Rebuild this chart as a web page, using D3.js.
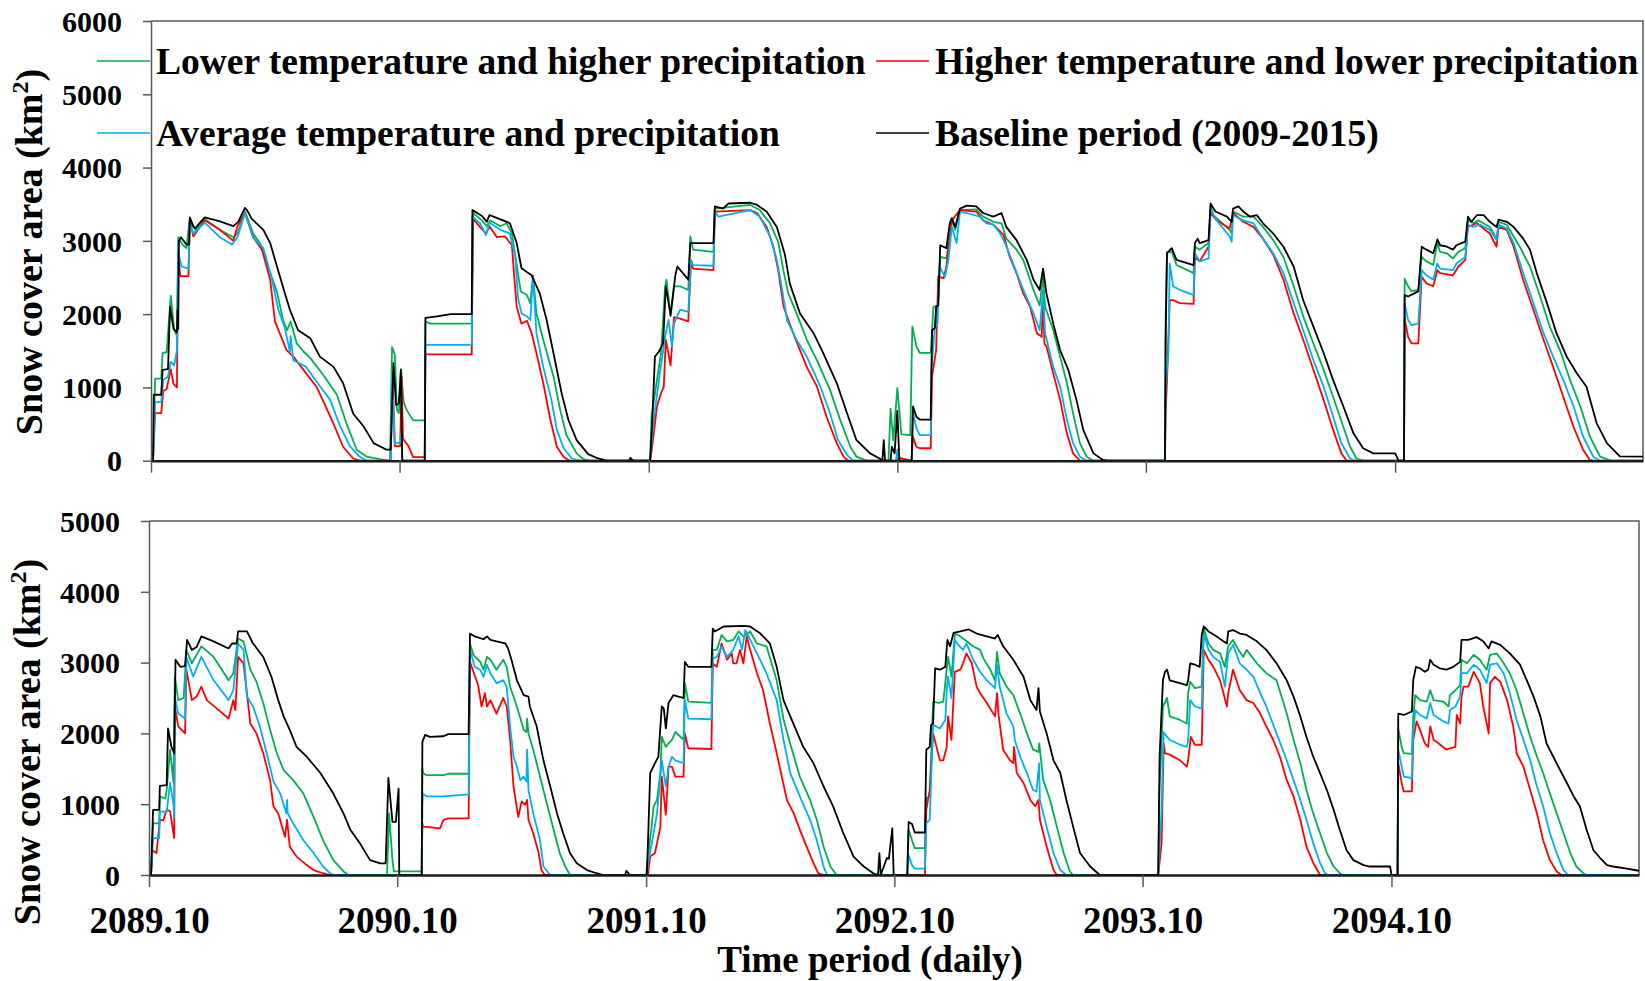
<!DOCTYPE html>
<html>
<head>
<meta charset="utf-8">
<script src="https://cdn.jsdelivr.net/npm/d3@7"></script>
<style>
  body { margin: 0; background: #fff; }
  text { font-family: "Times New Roman", "Liberation Serif", serif; font-weight: bold; fill: #000; }
</style>
</head>
<body>
<div id="chart"></div>
<script>
// day index from 2089-10-01, snow cover area in km2
var tickDays = [0, 365, 731, 1096, 1461, 1827];
var tickLabels = ["2089.10", "2090.10", "2091.10", "2092.10", "2093.10", "2094.10"];
var seriesNames = ["Lower temperature and higher precipitation", "Higher temperature and lower precipitation",
                   "Average temperature and precipitation", "Baseline period (2009-2015)"];
var seriesColors = ["#00b050", "#ff0000", "#00b0f0", "#000000"];

// upper panel
var topLowT = [[0,0],[3,0],[6,1120],[15,1120],[17,1470],[23,1480],[29,2250],[34,1800],[38,1700],[40,3050],[46,2950],[52,2900],[57,3300],[65,3150],[79,3300],[101,3150],[121,3050],[127,3100],[138,3400],[150,3100],[160,2970],[170,2700],[185,2300],[194,1920],[200,1780],[205,1900],[214,1600],[224,1490],[234,1400],[253,1170],[273,900],[287,510],[302,150],[317,55],[336,20],[351,0],[354,1550],[358,1450],[361,700],[364,650],[367,1250],[371,800],[375,700],[385,550],[402,550],[403,1900],[410,1870],[471,1870],
  [473,3380],[486,3280],[493,3200],[498,3280],[513,3200],[522,3240],[530,3100],[537,2670],[543,2310],[552,2260],[557,2150],[561,2530],[566,2010],[576,1650],[591,1150],[601,690],[610,350],[625,100],[635,20],[645,0],
  [733,0],[735,600],[743,1100],[749,1470],[755,2380],[757,2470],[763,1970],[768,2380],[777,2380],[789,2330],[792,3060],[796,2880],[826,2850],[828,3440],[880,3490],[894,3420],[909,3240],[921,2990],[929,2580],[936,2280],[948,2010],[963,1650],[978,1370],[997,970],[1012,560],[1027,190],[1036,55],[1051,0],[1083,0],[1086,710],[1090,280],[1096,990],[1102,360],
  [1115,350],[1118,1830],[1124,1560],[1129,1470],[1145,1470],[1149,2100],[1156,2120],[1159,2780],[1168,2760],[1176,3280],[1181,3150],[1188,3420],[1212,3430],[1222,3330],[1237,3260],[1249,3240],[1256,3030],[1271,2880],[1281,2740],[1296,2330],[1305,2120],[1310,2510],[1313,2100],[1325,1780],[1335,1420],[1345,1060],[1354,650],[1364,240],[1374,55],[1384,0],
  [1489,0],[1490,1950],[1492,2850],[1499,2850],[1506,2670],[1531,2560],[1533,2920],[1540,2880],[1553,2970],[1556,3470],[1560,3350],[1584,3150],[1587,3100],[1589,3400],[1604,3330],[1619,3330],[1633,3190],[1648,3010],[1663,2780],[1678,2380],[1692,1970],[1707,1600],[1722,1240],[1736,870],[1751,460],[1761,190],[1770,30],[1780,0],
  [1840,0],[1841,2480],[1846,2380],[1851,2310],[1861,2330],[1866,2780],[1873,2720],[1883,2670],[1889,2970],[1893,2850],[1903,2830],[1912,2760],[1920,2850],[1930,2900],[1934,3280],[1942,3240],[1949,3280],[1966,3190],[1976,3030],[1979,3260],[1991,3220],[2001,3060],[2010,2920],[2025,2650],[2040,2240],[2054,1830],[2069,1510],[2084,1100],[2099,740],[2113,330],[2128,55],[2143,0],[2191,0]];

var topHighT = [[0,0],[3,0],[6,650],[15,650],[18,950],[23,980],[29,1250],[33,1050],[38,1000],[40,2800],[43,2520],[55,2520],[57,3300],[62,3060],[79,3280],[101,3150],[121,3000],[127,3200],[138,3380],[150,3050],[163,2880],[175,2470],[182,1900],[189,1740],[199,1510],[209,1420],[224,1240],[243,1010],[258,710],[270,460],[282,190],[297,30],[307,0],[352,0],[355,1150],[358,200],[366,200],[368,1150],[370,300],[378,200],[385,50],[402,50],[403,1450],[471,1450],
  [473,3300],[483,3190],[492,3100],[497,3200],[508,3050],[520,3060],[530,2940],[533,2560],[537,2100],[544,1870],[552,1910],[559,1740],[566,1470],[576,1060],[586,580],[596,190],[606,50],[615,0],
  [733,0],[736,190],[743,740],[749,920],[753,1010],[756,1650],[763,1300],[768,1960],[777,1940],[789,1900],[793,2720],[796,2620],[826,2600],[828,3400],[855,3410],[880,3420],[890,3380],[904,3190],[914,2920],[921,2600],[929,2100],[943,1740],[963,1280],[978,1010],[992,600],[1007,240],[1017,55],[1024,0],[1096,0],[1098,50],[1102,30],
  [1117,0],[1119,330],[1124,190],[1129,170],[1145,170],[1147,1150],[1153,1510],[1156,2510],[1164,2490],[1168,2650],[1176,3280],[1188,3420],[1212,3400],[1222,3280],[1237,3220],[1252,3080],[1261,2780],[1271,2560],[1281,2280],[1291,2100],[1301,1740],[1308,1690],[1310,2280],[1312,1600],[1315,1560],[1325,1190],[1335,830],[1345,370],[1354,100],[1364,0],
  [1489,0],[1490,650],[1492,1100],[1496,2190],[1501,2190],[1511,2150],[1531,2140],[1533,2780],[1540,2720],[1553,2920],[1556,3380],[1565,3280],[1584,3170],[1589,3380],[1604,3260],[1619,3190],[1633,3030],[1648,2810],[1663,2470],[1678,2010],[1692,1650],[1707,1240],[1722,830],[1736,420],[1748,100],[1756,0],
  [1840,0],[1841,1940],[1846,1690],[1851,1600],[1861,1600],[1866,2510],[1873,2420],[1883,2380],[1889,2600],[1893,2560],[1912,2530],[1920,2650],[1930,2740],[1934,3190],[1947,3240],[1966,3100],[1976,2920],[1979,3190],[1991,3150],[2001,2920],[2015,2470],[2030,2060],[2045,1650],[2059,1280],[2074,870],[2089,460],[2103,150],[2113,10],[2118,0],[2191,0]];

var topAvg = [[0,0],[3,0],[6,800],[15,800],[18,1100],[25,1150],[29,1350],[34,1300],[38,1500],[40,2830],[45,2650],[55,2620],[57,3250],[62,3100],[79,3250],[101,3050],[119,2950],[127,3050],[138,3380],[150,3050],[165,2900],[177,2500],[187,2060],[196,1830],[204,1490],[205,1700],[209,1370],[228,1280],[243,1080],[263,830],[277,490],[292,200],[307,50],[317,0],[352,0],[354,1190],[358,240],[366,240],[368,400],[369,0],[402,0],[403,1580],[471,1580],
  [472,3330],[483,3240],[492,3080],[497,3250],[513,3150],[527,3100],[535,2780],[539,2220],[544,2010],[552,1970],[557,1920],[561,2500],[566,1740],[576,1280],[588,830],[596,420],[606,170],[618,30],[630,0],
  [733,0],[738,550],[748,1240],[755,1690],[760,1920],[765,1560],[768,1870],[777,2060],[789,2030],[793,2740],[796,2670],[826,2660],[828,3400],[833,3330],[880,3420],[894,3330],[909,3060],[919,2740],[926,2380],[934,1920],[948,1650],[963,1420],[983,1010],[997,650],[1009,280],[1022,80],[1031,0],[1094,0],[1096,150],[1098,0],
  [1117,0],[1119,650],[1124,440],[1129,350],[1145,350],[1146,1240],[1151,1810],[1155,1870],[1158,2650],[1166,2510],[1171,2740],[1176,3190],[1183,2970],[1188,3400],[1198,3380],[1217,3330],[1227,3240],[1237,3220],[1247,3100],[1254,2970],[1266,2690],[1281,2330],[1296,2010],[1305,1780],[1310,2330],[1313,1740],[1325,1280],[1335,1010],[1345,560],[1354,240],[1364,55],[1374,0],
  [1489,0],[1490,1000],[1494,1470],[1496,2690],[1501,2380],[1511,2330],[1531,2260],[1533,2830],[1540,2720],[1553,2760],[1556,3440],[1565,3280],[1584,3060],[1587,2990],[1589,3350],[1604,3280],[1619,3240],[1633,3030],[1648,2830],[1663,2560],[1678,2150],[1692,1780],[1707,1370],[1722,1010],[1736,600],[1748,240],[1761,30],[1768,0],
  [1840,0],[1841,2150],[1846,1920],[1851,1850],[1861,1870],[1866,2600],[1873,2530],[1883,2470],[1889,2690],[1893,2620],[1912,2600],[1917,2690],[1930,2780],[1934,3220],[1942,3190],[1952,3220],[1966,3150],[1976,3010],[1979,3220],[1991,3170],[2001,2970],[2015,2560],[2030,2150],[2045,1740],[2059,1420],[2074,1100],[2089,740],[2103,330],[2118,55],[2128,0],[2191,0]];

var topBase = [[0,0],[3,0],[4,900],[15,900],[17,1240],[25,1250],[28,2100],[33,1800],[38,1750],[39,2050],[40,1800],[41,3000],[44,3050],[52,2950],[56,2950],[57,3320],[62,3200],[65,3170],[72,3250],[79,3320],[100,3270],[121,3200],[128,3260],[138,3450],[141,3420],[148,3300],[165,3150],[175,2970],[185,2650],[198,2240],[204,2060],[216,1780],[234,1670],[248,1420],[268,1280],[282,1060],[297,640],[312,470],[327,240],[346,150],[352,150],[356,1330],[360,760],[364,780],[367,1240],[369,0],
  [402,0],[403,1950],[420,1970],[440,2000],[471,2000],[472,3420],[486,3340],[493,3260],[497,3350],[517,3280],[527,3240],[537,2970],[544,2630],[554,2560],[559,2530],[571,2280],[581,1920],[591,1470],[603,920],[613,555],[625,280],[642,90],[654,40],[669,0],[702,0],[704,40],[708,0],
  [733,0],[736,530],[740,1420],[746,1490],[752,1600],[756,2380],[763,1990],[770,2530],[773,2650],[789,2470],[792,2970],[826,2970],[828,3470],[840,3440],[848,3510],[880,3520],[890,3490],[904,3400],[919,3190],[931,2810],[938,2420],[953,2010],[973,1740],[987,1470],[1007,1060],[1022,650],[1036,280],[1056,100],[1070,30],[1074,0],[1076,280],[1078,0],[1086,0],[1088,190],[1092,100],[1096,680],[1099,0],
  [1117,0],[1119,740],[1124,600],[1129,560],[1145,560],[1147,1780],[1151,1810],[1153,2100],[1156,2120],[1159,2940],[1168,2900],[1173,3240],[1176,3310],[1181,3190],[1188,3440],[1198,3480],[1212,3470],[1222,3380],[1237,3330],[1249,3380],[1256,3190],[1271,3010],[1286,2740],[1296,2470],[1305,2330],[1310,2620],[1315,2280],[1325,1870],[1335,1510],[1347,1240],[1359,830],[1369,420],[1384,100],[1398,10],[1405,0],
  [1489,0],[1490,1650],[1492,2830],[1499,2900],[1506,2740],[1531,2670],[1533,2970],[1537,3030],[1540,2970],[1553,3010],[1556,3510],[1563,3400],[1580,3330],[1587,3260],[1589,3440],[1597,3470],[1604,3400],[1614,3330],[1624,3350],[1633,3240],[1648,3100],[1663,2920],[1678,2650],[1692,2190],[1707,1830],[1722,1470],[1736,1100],[1751,740],[1766,370],[1780,170],[1795,100],[1827,100],[1832,0],
  [1840,0],[1841,2260],[1846,2240],[1861,2310],[1866,2920],[1873,2880],[1883,2830],[1889,3020],[1893,2940],[1903,2920],[1912,2880],[1917,2940],[1930,2990],[1934,3330],[1939,3260],[1947,3350],[1957,3350],[1966,3260],[1976,3190],[1979,3290],[1991,3260],[2001,3190],[2015,3030],[2025,2880],[2035,2560],[2050,2150],[2064,1740],[2079,1420],[2094,1190],[2108,1010],[2123,510],[2138,240],[2157,60],[2191,55]];

// lower panel
var botLowT = [[0,0],[3,0],[6,730],[15,730],[16,1110],[24,1080],[26,1200],[31,1770],[36,1300],[38,2800],[43,2470],[51,2500],[55,3180],[63,2990],[77,3230],[95,3080],[117,2750],[124,2850],[131,3340],[139,3300],[149,2900],[158,2730],[168,2430],[178,2050],[188,1720],[198,1480],[212,1340],[227,1150],[242,820],[256,490],[271,210],[286,50],[293,0],[350,0],[353,870],[358,210],[360,50],[401,50],
  [402,1510],[403,1440],[408,1410],[433,1410],[440,1430],[470,1430],[472,3270],[477,3110],[487,3010],[492,2900],[497,3080],[502,3040],[511,2900],[521,3040],[526,2940],[531,2660],[541,2380],[551,2050],[555,2020],[556,2210],[558,2000],[565,1770],[575,1390],[585,1010],[595,640],[604,310],[612,120],[619,0],
  [731,0],[733,210],[739,680],[742,970],[747,1060],[752,1440],[754,1950],[760,1810],[764,1860],[769,1910],[774,2020],[786,1910],[788,2710],[793,2450],[827,2430],[829,3180],[835,3180],[842,3390],[850,3300],[859,3320],[867,3440],[874,3370],[884,3440],[894,3270],[908,3230],[923,2750],[933,2200],[943,1850],[957,1390],[972,1060],[982,780],[992,400],[1002,120],[1011,0],
  [1115,0],[1117,640],[1122,490],[1126,380],[1141,380],[1143,1080],[1148,1110],[1153,2450],[1161,2430],[1168,2450],[1173,2900],[1175,3080],[1180,2800],[1185,3410],[1190,3390],[1200,3320],[1212,3230],[1222,3180],[1227,3060],[1237,2900],[1244,2750],[1247,3150],[1251,2850],[1261,2660],[1271,2540],[1281,2280],[1291,2000],[1300,1770],[1308,1740],[1309,1860],[1315,1340],[1325,1060],[1335,680],[1345,310],[1354,50],[1359,0],
  [1484,0],[1486,1200],[1491,2380],[1497,2500],[1501,2240],[1516,2190],[1526,2140],[1528,2570],[1531,2730],[1538,2640],[1548,2660],[1551,3480],[1558,3270],[1565,3180],[1575,3130],[1582,2940],[1587,3230],[1594,3320],[1602,3180],[1609,3080],[1614,3180],[1629,2990],[1643,2850],[1658,2750],[1673,2280],[1683,1910],[1693,1580],[1702,1200],[1712,870],[1722,590],[1732,310],[1742,120],[1751,25],[1756,0],
  [1836,0],[1837,2070],[1842,1810],[1845,1720],[1857,1710],[1859,2240],[1862,2540],[1869,2470],[1879,2450],[1884,2610],[1889,2470],[1903,2450],[1911,2380],[1913,2540],[1921,2610],[1928,2680],[1930,3040],[1938,2990],[1948,3110],[1957,3040],[1967,2900],[1972,3110],[1982,3130],[1992,2990],[2001,2850],[2011,2610],[2021,2280],[2031,1950],[2041,1670],[2050,1440],[2060,1150],[2070,870],[2080,590],[2090,310],[2099,120],[2109,25],[2114,0],[2191,0]];

var botHighT = [[0,0],[3,0],[5,350],[11,310],[16,780],[21,770],[26,920],[31,900],[37,520],[38,2380],[43,2100],[53,2000],[55,2900],[63,2470],[70,2520],[77,2660],[85,2470],[100,2350],[117,2210],[124,2470],[127,2330],[131,3080],[139,2990],[144,2570],[149,2140],[158,2000],[168,1720],[178,1340],[183,970],[190,870],[200,540],[203,780],[207,400],[217,260],[232,140],[242,70],[256,25],[266,0],[401,0],
  [402,730],[403,680],[408,680],[428,660],[433,780],[440,800],[470,800],[472,3010],[477,2870],[484,2680],[489,2380],[494,2570],[497,2380],[502,2470],[511,2280],[521,2500],[526,2380],[531,1910],[536,1250],[543,820],[548,1040],[553,990],[556,1060],[558,780],[565,590],[573,310],[577,70],[582,0],
  [732,0],[734,20],[737,260],[744,310],[752,680],[754,1390],[760,850],[764,1530],[769,1530],[774,1390],[786,1390],[788,2000],[793,1790],[827,1780],[829,2990],[835,2940],[842,3270],[850,3040],[857,3130],[859,2990],[864,2990],[869,3180],[874,2990],[879,3370],[884,3180],[894,2850],[903,2610],[913,2140],[923,1720],[938,1060],[948,870],[957,640],[967,400],[977,170],[984,25],[992,0],
  [1141,0],[1143,920],[1148,1200],[1153,2000],[1158,1810],[1163,1620],[1168,1620],[1173,1810],[1175,2240],[1180,1910],[1185,2870],[1193,2900],[1197,2990],[1202,3130],[1210,2990],[1217,2660],[1222,2570],[1232,2430],[1244,2240],[1247,2570],[1249,2280],[1256,1770],[1266,1620],[1271,1580],[1272,1810],[1276,1440],[1286,1300],[1296,1060],[1303,970],[1308,1060],[1310,780],[1320,400],[1330,70],[1335,0],
  [1484,0],[1489,450],[1492,1860],[1494,1720],[1501,1700],[1516,1620],[1526,1530],[1528,1620],[1532,1950],[1538,1840],[1548,1840],[1551,3180],[1558,3040],[1565,2940],[1575,2750],[1585,2380],[1587,2570],[1594,2900],[1604,2610],[1614,2470],[1624,2430],[1634,2280],[1643,2100],[1653,1910],[1663,1670],[1673,1340],[1683,1110],[1693,780],[1702,400],[1712,170],[1722,0],
  [1836,0],[1837,1580],[1842,1300],[1845,1180],[1857,1180],[1859,1910],[1864,2170],[1869,2050],[1876,1860],[1881,1810],[1884,2100],[1889,1910],[1896,1860],[1908,1770],[1913,1790],[1921,1810],[1923,2260],[1928,2140],[1930,2520],[1933,2660],[1940,2660],[1948,2870],[1957,2710],[1962,2380],[1970,2000],[1972,2710],[1979,2800],[1987,2730],[1997,2470],[2006,2100],[2009,1910],[2011,1720],[2021,1530],[2031,1200],[2041,870],[2050,490],[2060,210],[2070,50],[2077,0],[2191,0]];

var botAvg = [[0,0],[3,0],[6,520],[15,520],[16,900],[26,890],[31,1300],[36,990],[37,820],[38,2520],[43,2280],[53,2210],[55,3080],[65,2800],[77,3080],[95,2750],[117,2470],[124,2610],[131,3270],[139,3180],[144,2520],[153,2380],[163,2100],[173,1720],[183,1320],[193,1150],[202,870],[203,1060],[204,870],[212,730],[227,490],[242,310],[256,120],[266,25],[271,0],[401,0],
  [402,1010],[403,1150],[408,1110],[433,1110],[470,1140],[472,3180],[479,2940],[487,2900],[492,2800],[497,2970],[502,2850],[511,2710],[521,2750],[526,2660],[531,2100],[536,1670],[541,1530],[546,1340],[551,1390],[555,1320],[556,1770],[558,1200],[565,870],[575,490],[580,120],[590,0],
  [732,0],[734,170],[742,590],[747,870],[752,1390],[754,1620],[760,1250],[764,1530],[769,1670],[774,1620],[786,1580],[788,2470],[793,2210],[827,2200],[829,3060],[835,3080],[842,3230],[850,3080],[859,3180],[867,3370],[872,3180],[877,3460],[884,3320],[894,3130],[908,2850],[923,2470],[933,1910],[943,1440],[957,1110],[972,780],[982,490],[992,120],[997,0],
  [1115,0],[1117,280],[1122,140],[1126,90],[1141,90],[1143,730],[1148,780],[1153,2120],[1163,2070],[1171,2190],[1173,2610],[1175,2800],[1180,2500],[1185,3320],[1190,3250],[1197,3180],[1202,3270],[1212,3040],[1222,2870],[1232,2750],[1244,2640],[1247,2970],[1251,2660],[1261,2280],[1271,2100],[1273,1910],[1281,1670],[1291,1440],[1300,1200],[1305,1180],[1309,1580],[1310,1060],[1320,680],[1330,310],[1340,70],[1349,0],
  [1484,0],[1489,920],[1492,2020],[1497,1950],[1501,1910],[1516,1840],[1526,1810],[1528,1900],[1531,2470],[1538,2380],[1548,2350],[1551,3410],[1558,3180],[1565,3080],[1575,3010],[1582,2660],[1587,3130],[1594,3250],[1604,2990],[1614,2900],[1624,2800],[1634,2570],[1643,2380],[1658,2000],[1673,1620],[1683,1340],[1693,1060],[1702,780],[1712,450],[1722,170],[1729,25],[1734,0],
  [1836,0],[1837,1770],[1842,1530],[1845,1390],[1857,1370],[1859,2000],[1862,2330],[1869,2260],[1879,2210],[1884,2430],[1889,2260],[1903,2170],[1911,2140],[1913,2330],[1921,2380],[1928,2520],[1930,2850],[1938,2850],[1948,2970],[1957,2900],[1967,2710],[1972,2970],[1982,2990],[1992,2850],[2001,2570],[2011,2190],[2021,1910],[2031,1620],[2041,1250],[2050,970],[2060,590],[2070,310],[2080,70],[2087,0],[2191,0]];

var botBase = [[0,0],[3,0],[6,920],[15,920],[16,1260],[26,1270],[28,2070],[33,1810],[37,1720],[39,3040],[46,2940],[53,2950],[56,3320],[63,3180],[70,3220],[77,3370],[95,3300],[117,3200],[122,3270],[129,3270],[131,3440],[144,3440],[153,3270],[168,3080],[180,2800],[190,2470],[198,2240],[207,2050],[217,1810],[232,1670],[252,1440],[271,1150],[286,870],[296,640],[310,450],[325,210],[340,165],[348,165],[352,1370],[358,750],[363,750],[367,1220],[368,0],
  [401,0],[402,1880],[406,1980],[413,1950],[433,1960],[440,1990],[470,1990],[472,3410],[479,3370],[492,3330],[497,3370],[502,3320],[511,3300],[524,3270],[528,3200],[533,3040],[541,2750],[551,2540],[558,2520],[560,2380],[570,2100],[580,1620],[590,1250],[600,870],[609,590],[619,310],[629,165],[644,70],[658,25],[668,0],[700,0],[702,60],[707,0],
  [732,0],[734,540],[737,1440],[744,1580],[749,1670],[754,2380],[757,2350],[760,2070],[764,2430],[771,2540],[786,2500],[788,3010],[793,2940],[827,2940],[829,3480],[832,3440],[845,3510],[874,3520],[884,3510],[899,3410],[913,3270],[923,2940],[933,2470],[943,2240],[962,1810],[977,1580],[992,1250],[1006,970],[1021,590],[1036,260],[1051,120],[1065,25],[1072,0],[1074,310],[1076,0],[1085,240],[1088,230],[1093,660],[1095,0],
  [1115,0],[1117,750],[1122,720],[1126,600],[1141,600],[1143,1770],[1148,1810],[1150,2120],[1153,2140],[1156,2920],[1163,2900],[1171,2940],[1174,3320],[1178,3230],[1183,3420],[1193,3440],[1205,3470],[1217,3410],[1232,3370],[1244,3340],[1248,3390],[1256,3230],[1271,3040],[1286,2800],[1296,2470],[1305,2330],[1308,2640],[1310,2310],[1320,2000],[1330,1620],[1340,1440],[1349,1060],[1359,680],[1369,310],[1384,120],[1398,0],
  [1484,0],[1486,1670],[1491,2750],[1494,2870],[1497,2900],[1501,2750],[1516,2710],[1526,2680],[1528,2750],[1531,2990],[1538,2970],[1545,2940],[1548,3390],[1551,3510],[1558,3440],[1570,3370],[1580,3300],[1585,3270],[1587,3440],[1594,3460],[1604,3410],[1614,3390],[1629,3300],[1643,3180],[1658,2990],[1673,2750],[1683,2520],[1693,2240],[1702,1950],[1712,1670],[1722,1440],[1732,1200],[1742,920],[1751,640],[1761,350],[1771,210],[1786,140],[1795,120],[1825,120],[1827,0],
  [1836,0],[1837,2280],[1845,2260],[1857,2310],[1859,2750],[1863,2940],[1869,2920],[1876,2870],[1881,2900],[1884,3040],[1889,2970],[1898,2920],[1908,2900],[1918,2940],[1928,3010],[1930,3320],[1940,3320],[1952,3360],[1962,3300],[1970,3200],[1974,3300],[1987,3250],[2001,3130],[2016,2970],[2026,2750],[2036,2520],[2046,2240],[2055,1860],[2065,1670],[2075,1480],[2085,1300],[2095,1110],[2104,970],[2114,640],[2124,350],[2134,240],[2144,140],[2153,120],[2173,90],[2191,60]];

var topMax = 6000, botMax = 5000;
var lastDay = 2191;

var svg = d3.select("#chart").append("svg")
  .attr("width", 1645)
  .attr("height", 981);

svg.append("rect").attr("width", 1645).attr("height", 981).attr("fill", "#fff");

function drawPanel(series, yMax, left, right, top, bottom, showLabels, titlePos) {
  var x = d3.scaleLinear().domain([0, lastDay]).range([left, right]);
  var y = d3.scaleLinear().domain([0, yMax]).range([bottom, top]);

  // frame (top and right borders)
  svg.append("path")
    .attr("d", "M" + left + "," + top + "H" + right + "V" + bottom)
    .attr("fill", "none")
    .attr("stroke", "#595959")
    .attr("stroke-width", 1.5);

  var line = d3.line()
    .x(function(d) { return x(d[0]); })
    .y(function(d) { return y(d[1]); });

  series.forEach(function(s, i) {
    svg.append("path")
      .datum(s)
      .attr("d", line)
      .attr("fill", "none")
      .attr("stroke", seriesColors[i])
      .attr("stroke-width", 1.8)
      .attr("stroke-linejoin", "round");
  });

  // y axis
  var yAxis = svg.append("g")
    .attr("transform", "translate(" + left + ",0)")
    .call(d3.axisLeft(y).tickValues(d3.range(0, yMax + 1, 1000)).tickFormat(d3.format("d"))
      .tickSize(8).tickPadding(21).tickSizeOuter(0));
  yAxis.select(".domain").attr("stroke", "#595959").attr("stroke-width", 1.5);
  yAxis.selectAll(".tick line").attr("stroke", "#595959").attr("stroke-width", 1.5);
  yAxis.selectAll(".tick text")
    .attr("font-family", "'Times New Roman', 'Liberation Serif', serif")
    .attr("font-weight", "bold")
    .attr("font-size", 30)
    .attr("dy", "0.34em");

  // x axis on zero line
  var xAxis = svg.append("g")
    .attr("transform", "translate(0," + bottom + ")")
    .call(d3.axisBottom(x).tickValues(tickDays).tickSize(12).tickSizeOuter(0)
      .tickFormat(function(d, i) { return showLabels ? tickLabels[i] : ""; }));
  xAxis.select(".domain").attr("stroke", "#1a1a1a").attr("stroke-width", 2.4);
  xAxis.selectAll(".tick line").attr("stroke", "#595959").attr("stroke-width", 1.5);
  xAxis.selectAll(".tick text")
    .attr("font-family", "'Times New Roman', 'Liberation Serif', serif")
    .attr("font-weight", "bold")
    .attr("font-size", 37)
    .attr("y", 58)
    .attr("dy", null);

  // y title
  var t = svg.append("text")
    .attr("transform", "translate(" + titlePos[0] + "," + titlePos[1] + ") rotate(-90)")
    .attr("text-anchor", "middle")
    .attr("font-size", 38);
  t.append("tspan").text("Snow cover area (km");
  t.append("tspan").attr("font-size", 24).attr("dy", -14).text("2");
  t.append("tspan").attr("dy", 14).text(")");
}

drawPanel([topLowT, topHighT, topAvg, topBase], topMax, 151, 1643, 21, 460.7, false, [42, 252]);
drawPanel([botLowT, botHighT, botAvg, botBase], botMax, 149, 1639, 521, 875, true, [40, 742]);

// legend
var legendPos = [[97, 61], [876, 61], [97, 133], [876, 133]];
seriesNames.forEach(function(name, i) {
  var p = legendPos[i];
  svg.append("line")
    .attr("x1", p[0]).attr("x2", p[0] + 53)
    .attr("y1", p[1]).attr("y2", p[1])
    .attr("stroke", seriesColors[i])
    .attr("stroke-width", 1.6);
  svg.append("text")
    .attr("x", p[0] + 59)
    .attr("y", p[1] + 12.5)
    .attr("font-size", 37.5)
    .text(name);
});

// x title
svg.append("text")
  .attr("x", 870)
  .attr("y", 972)
  .attr("text-anchor", "middle")
  .attr("font-size", 37)
  .text("Time period (daily)");
</script>
</body>
</html>
